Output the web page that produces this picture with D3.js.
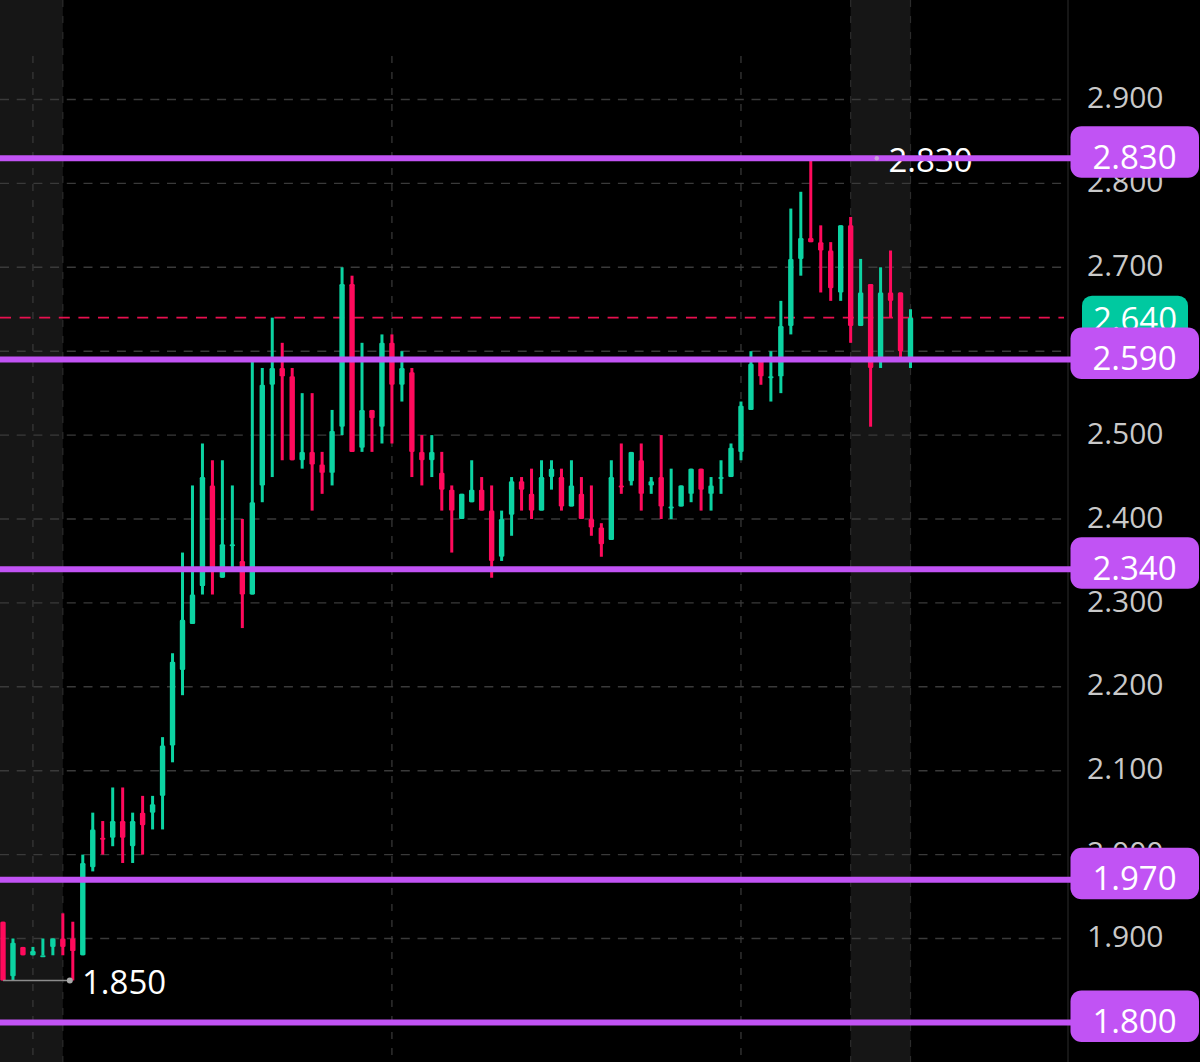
<!DOCTYPE html>
<html>
<head>
<meta charset="utf-8">
<script src="https://cdn.jsdelivr.net/npm/d3@7"></script>
<style>
  html, body { margin: 0; padding: 0; background: #000; }
  svg { display: block; }
  text { font-family: "Open Sans", "Noto Sans", sans-serif; }
</style>
</head>
<body>
<svg id="chart"></svg>
<script>
// candles, left to right
const opens = [1.92,1.855,1.89,1.88,1.88,1.89,1.90,1.90,1.88,1.985,2.02,2.02,2.04,2.01,2.05,2.05,2.07,2.13,2.22,2.275,
  2.32,2.44,2.33,2.37,2.35,2.31,2.44,2.56,2.58,2.57,2.47,2.48,2.465,2.455,2.51,2.68,2.485,2.53,2.51,2.61,
  2.56,2.575,2.48,2.47,2.455,2.435,2.40,2.42,2.435,2.41,2.355,2.405,2.445,2.43,2.41,2.45,2.45,2.415,2.43,2.40,
  2.39,2.375,2.44,2.445,2.47,2.44,2.45,2.415,2.415,2.43,2.46,2.43,2.45,2.45,2.48,2.53,2.59,2.57,2.57,2.63,
  2.71,2.735,2.73,2.72,2.67,2.75,2.63,2.68,2.59,2.67,2.67,2.59];
const highs = [1.92,1.90,1.89,1.89,1.90,1.90,1.93,1.92,2.00,2.05,2.04,2.08,2.08,2.05,2.07,2.07,2.14,2.24,2.36,2.44,
  2.49,2.47,2.47,2.44,2.40,2.59,2.58,2.64,2.61,2.58,2.55,2.55,2.48,2.53,2.70,2.69,2.61,2.53,2.62,2.62,
  2.60,2.58,2.50,2.50,2.48,2.44,2.43,2.47,2.45,2.44,2.41,2.45,2.45,2.46,2.47,2.47,2.46,2.47,2.45,2.44,
  2.395,2.47,2.49,2.48,2.49,2.45,2.50,2.46,2.44,2.46,2.46,2.45,2.47,2.49,2.54,2.60,2.59,2.60,2.66,2.77,
  2.79,2.83,2.75,2.73,2.75,2.76,2.71,2.68,2.70,2.72,2.67,2.65];
const lows = [1.85,1.85,1.88,1.88,1.88,1.88,1.88,1.85,1.88,1.98,2.00,2.01,1.99,1.99,2.00,2.03,2.03,2.11,2.19,2.275,
  2.31,2.31,2.33,2.34,2.27,2.31,2.42,2.45,2.47,2.47,2.46,2.41,2.43,2.44,2.50,2.48,2.48,2.48,2.49,2.49,
  2.54,2.45,2.44,2.45,2.41,2.36,2.40,2.42,2.41,2.33,2.35,2.38,2.41,2.40,2.41,2.435,2.41,2.415,2.40,2.38,
  2.355,2.375,2.43,2.44,2.41,2.43,2.40,2.40,2.415,2.42,2.41,2.41,2.43,2.45,2.47,2.53,2.56,2.54,2.55,2.62,
  2.69,2.73,2.67,2.66,2.66,2.61,2.63,2.51,2.58,2.64,2.59,2.58];
const closes = [1.85,1.895,1.88,1.885,1.88,1.90,1.89,1.885,1.99,2.03,2.02,2.04,2.02,2.04,2.035,2.06,2.13,2.23,2.28,2.31,
  2.45,2.34,2.37,2.37,2.31,2.42,2.56,2.58,2.57,2.47,2.48,2.465,2.455,2.505,2.68,2.48,2.53,2.52,2.61,2.56,
  2.58,2.48,2.47,2.48,2.435,2.41,2.43,2.435,2.41,2.35,2.40,2.445,2.435,2.41,2.45,2.46,2.415,2.44,2.40,2.39,
  2.37,2.45,2.44,2.48,2.43,2.445,2.415,2.415,2.44,2.46,2.435,2.44,2.45,2.485,2.535,2.585,2.57,2.57,2.63,2.71,
  2.735,2.73,2.72,2.675,2.75,2.63,2.67,2.58,2.67,2.66,2.60,2.64];
// green or red comes from the picture, dojis could not be told apart by price alone
const isUp = [0,1,0,1,1,1,0,0,1,1,0,1,0,1,0,1,1,1,1,1,
  1,0,1,1,0,1,1,1,0,0,1,0,0,1,1,0,1,0,1,0,
  1,0,0,1,0,0,1,1,0,0,1,1,0,0,1,1,0,1,0,0,
  0,1,0,1,0,1,0,1,1,1,0,1,1,1,1,1,0,1,1,1,
  1,0,0,0,1,0,1,0,1,0,0,1];

const priceTicks = [2.9,2.8,2.7,2.6,2.5,2.4,2.3,2.2,2.1,2.0,1.9];
const levels = [2.83,2.59,2.34,1.97,1.80];
const lastPrice = 2.64;
const highMark = { index: 81, price: 2.83, label: "2.830" };
const lowMark = { index: 7, price: 1.85, label: "1.850" };
const dashedTimes = [3,39,74];       // vertical grid, stops short of the top
const sessionEdges = [6,85,91];      // vertical grid, full height
const sessions = [[-1,6],[85,91]];   // grey shaded sessions

const width = 1200, height = 1062, plotRight = 1068;
const green = "#0cd3a2", red = "#ff0a5c", purple = "#c153f4";

const x = d3.scaleLinear().domain([0, 91]).range([3, 910.5]);
const y = d3.scaleLinear().domain([2.9, 1.9]).range([99.5, 938.5]);

const svg = d3.select("#chart").attr("width", width).attr("height", height);

// shaded sessions
svg.selectAll("rect.session").data(sessions).enter().append("rect")
  .attr("class", "session")
  .attr("x", d => Math.max(0, x(d[0])))
  .attr("width", d => x(d[1]) - Math.max(0, x(d[0])))
  .attr("y", 0).attr("height", height)
  .attr("fill", "#161616");

// grid
const gridColor = "#3a3a3a";
svg.selectAll("line.h").data(priceTicks).enter().append("line")
  .attr("class", "h")
  .attr("x1", 0).attr("x2", 1064)
  .attr("y1", d => y(d)).attr("y2", d => y(d))
  .attr("stroke", gridColor).attr("stroke-width", 1.4).attr("stroke-dasharray", "9 7.7");
svg.selectAll("line.v").data(dashedTimes).enter().append("line")
  .attr("class", "v")
  .attr("x1", d => x(d)).attr("x2", d => x(d))
  .attr("y1", 56).attr("y2", height)
  .attr("stroke", gridColor).attr("stroke-width", 1.2).attr("stroke-dasharray", "7 9");
svg.selectAll("line.edge").data(sessionEdges).enter().append("line")
  .attr("class", "edge")
  .attr("x1", d => x(d)).attr("x2", d => x(d))
  .attr("y1", 0).attr("y2", height)
  .attr("stroke", "#2b2b2b").attr("stroke-width", 1.2).attr("stroke-dasharray", "7 9");
svg.append("line")
  .attr("x1", plotRight).attr("x2", plotRight).attr("y1", 0).attr("y2", height)
  .attr("stroke", "#262626").attr("stroke-width", 1.2);

// last price line
svg.append("line")
  .attr("x1", 0).attr("x2", 1064)
  .attr("y1", y(lastPrice)).attr("y2", y(lastPrice))
  .attr("stroke", "#e8104f").attr("stroke-width", 1.6).attr("stroke-dasharray", "11 8.6");

// candles
const candles = opens.map((o, i) => ({ i, o, h: highs[i], l: lows[i], c: closes[i], up: isUp[i] === 1 }));
const candle = svg.selectAll("g.candle").data(candles).enter().append("g").attr("class", "candle")
  .attr("fill", d => d.up ? green : red);
candle.append("rect")
  .attr("x", d => x(d.i) - 1.5).attr("width", 3)
  .attr("y", d => y(d.h)).attr("height", d => y(d.l) - y(d.h));
candle.append("rect")
  .attr("x", d => x(d.i) - 2.7).attr("width", 5.4)
  .attr("y", d => Math.min(y(d.o), y(d.c)))
  .attr("height", d => Math.max(2, Math.abs(y(d.o) - y(d.c))))
  .attr("rx", 1.2);

// low marker
svg.append("line")
  .attr("x1", x(0)).attr("x2", x(lowMark.index) - 3)
  .attr("y1", y(lowMark.price)).attr("y2", y(lowMark.price))
  .attr("stroke", "#8c8c8c").attr("stroke-width", 1.5);
svg.append("circle").attr("cx", x(lowMark.index) - 3).attr("cy", y(lowMark.price)).attr("r", 3).attr("fill", "#a8a8a8");
svg.append("text").attr("x", 82).attr("y", y(lowMark.price) + 13.5)
  .attr("font-size", 33).attr("fill", "#fff").text(lowMark.label);

// high marker label sits under the level line
svg.append("text").attr("x", 888.5).attr("y", y(highMark.price) + 13.5)
  .attr("font-size", 33).attr("fill", "#fff").text(highMark.label);

// price axis
const axis = svg.append("g").attr("transform", "translate(1087,0)")
  .call(d3.axisRight(y).tickValues(priceTicks).tickSize(0).tickPadding(0).tickFormat(d3.format(".3f")));
axis.select(".domain").remove();
axis.selectAll("text").attr("font-size", 30).attr("fill", "#c9c9c9").attr("dy", "0.27em")
  .style("font-family", '"Open Sans", "Noto Sans", sans-serif');

// last price tag
svg.append("rect")
  .attr("x", 1082).attr("width", 106)
  .attr("y", y(lastPrice) - 22).attr("height", 44).attr("rx", 10)
  .attr("fill", "#00c9a0");
svg.append("text").attr("x", 1135).attr("y", y(lastPrice) + 13.5)
  .attr("text-anchor", "middle").attr("font-size", 33).attr("fill", "#fff")
  .text(d3.format(".3f")(lastPrice));

// purple levels with tags
svg.selectAll("line.level").data(levels).enter().append("line")
  .attr("class", "level")
  .attr("x1", 0).attr("x2", 1075)
  .attr("y1", d => y(d)).attr("y2", d => y(d))
  .attr("stroke", purple).attr("stroke-width", 6);
svg.append("circle").attr("cx", x(highMark.index) + 66).attr("cy", y(highMark.price)).attr("r", 2.2).attr("fill", "#c9a0dc");
svg.selectAll("rect.tag").data(levels).enter().append("rect")
  .attr("class", "tag")
  .attr("x", 1070.5).attr("width", 128.5)
  .attr("y", d => y(d) - 32).attr("height", 51.5).attr("rx", 11)
  .attr("fill", purple);
svg.selectAll("text.tag").data(levels).enter().append("text")
  .attr("class", "tag")
  .attr("x", 1134.5).attr("y", d => y(d) + 10.5)
  .attr("text-anchor", "middle").attr("font-size", 33).attr("fill", "#fff")
  .text(d => d3.format(".3f")(d));
</script>
</body>
</html>
